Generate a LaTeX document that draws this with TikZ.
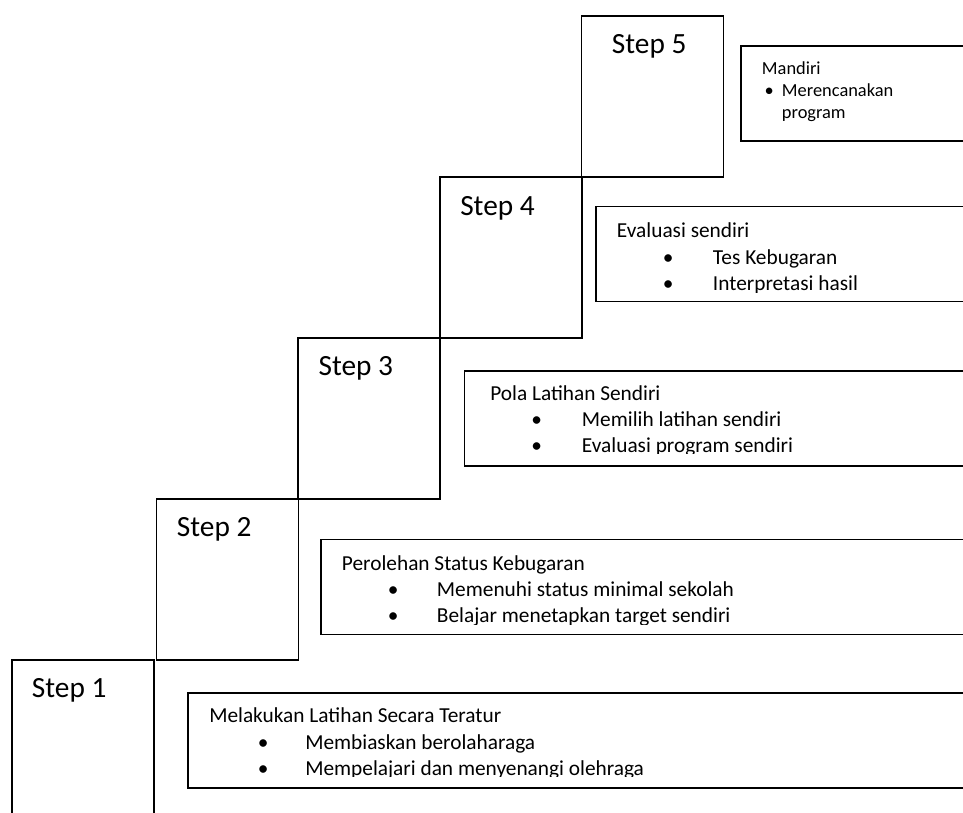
\documentclass[tikz,border=0pt]{standalone}
\usepackage{fontspec}
\setmainfont{Carlito}
\usetikzlibrary{positioning}

\begin{document}
\begin{tikzpicture}[
    x=0.75pt, y=-0.75pt,
    every node/.style={font=\fontsize{16}{20}\selectfont},
    stepbox/.style={
        rectangle,
        draw=black,
        line width=1.3pt,
        anchor=north west,
        minimum width=106.5pt,
        minimum height=120.75pt,
        inner sep=0pt
    },
    steplabel/.style={
        anchor=base west,
        inner sep=0pt,
        font=\fontsize{22}{26}\selectfont
    },
    infobox/.style={
        rectangle,
        draw=black,
        line width=1.3pt,
        anchor=north west,
        minimum width=600pt,
        minimum height=71.25pt,
        inner sep=0pt
    },
    txtline/.style={anchor=base west, inner sep=0pt},
    bullet/.style={anchor=base, inner sep=0pt},
    small/.style={font=\fontsize{13.8}{16.3}\selectfont}
]

\clip (0,0) rectangle (963,813);

% Steps
\node[stepbox] (s1) at (11,659) {};
\node[stepbox] (s2) at (155.7,498.3) {};
\node[stepbox] (s3) at (297.4,337.3) {};
\node[stepbox] (s4) at (439.2,176.3) {};
\node[stepbox] (s5) at (580.7,15) {};

\node[steplabel] (s1l) at (31.7,697.3) {Step 1};
\node[steplabel] (s2l) at (176.7,536.7) {Step 2};
\node[steplabel] (s3l) at (318.3,375) {Step 3};
\node[steplabel] (s4l) at (460,215) {Step 4};
\node[steplabel] (s5l) at (611.7,53.3) {Step 5};

% Step 1 box
\node[infobox] (t1) at (187.3,692) {};
\begin{scope}
\clip (t1.north west) rectangle ([yshift=8.85pt]t1.south east);
\node[txtline] (t1h) at (209,722.3) {Melakukan Latihan Secara Teratur};
\node[bullet] (t1b1) at (263.3,749) {\textbullet};
\node[txtline] (t1a) at (305,749) {Membiaskan berolaharaga};
\node[bullet] (t1b2) at (263.3,775.5) {\textbullet};
\node[txtline] (t1b) at (305,775.5) {Mempelajari dan menyenangi olehraga};
\end{scope}

% Step 2 box
\node[infobox] (t2) at (320,538.5) {};
\begin{scope}
\clip (t2.north west) rectangle ([yshift=8.3pt]t2.south east);
\node[txtline] (t2h) at (341.7,570) {Perolehan Status Kebugaran};
\node[bullet] (t2b1) at (393.3,596.7) {\textbullet};
\node[txtline] (t2a) at (436.7,596.7) {Memenuhi status minimal sekolah};
\node[bullet] (t2b2) at (393.3,622.7) {\textbullet};
\node[txtline] (t2b) at (436.7,622.7) {Belajar menetapkan target sendiri};
\end{scope}

% Step 3 box
\node[infobox] (t3) at (463.7,370) {};
\begin{scope}
\clip (t3.north west) rectangle ([yshift=9.75pt]t3.south east);
\node[txtline] (t3h) at (490,400.7) {Pola Latihan Sendiri};
\node[bullet] (t3b1) at (536.7,426.5) {\textbullet};
\node[txtline] (t3a) at (581.7,426.5) {Memilih latihan sendiri};
\node[bullet] (t3b2) at (536.7,452.3) {\textbullet};
\node[txtline] (t3b) at (581.7,452.3) {Evaluasi program sendiri};
\end{scope}

% Step 4 box
\node[infobox] (t4) at (595.3,205.7) {};
\begin{scope}
\clip (t4.north west) rectangle ([yshift=7.7pt]t4.south east);
\node[txtline] (t4h) at (616.7,237.3) {Evaluasi sendiri};
\node[bullet] (t4b1) at (668.3,264) {\textbullet};
\node[txtline] (t4a) at (712.7,264) {Tes Kebugaran};
\node[bullet] (t4b2) at (668.3,290.7) {\textbullet};
\node[txtline] (t4b) at (712.7,290.7) {Interpretasi hasil};
\end{scope}

% Step 5 box
\node[infobox] (t5) at (740.3,45) {};
\node[txtline, small] (t5h) at (761.7,75) {Mandiri};
\node[bullet, small] (t5b1) at (769.3,96.7) {\textbullet};
\node[txtline, small] (t5a) at (781.7,96.7) {Merencanakan};
\node[txtline, small] (t5b) at (781.7,118.3) {program};

\end{tikzpicture}
\end{document}
